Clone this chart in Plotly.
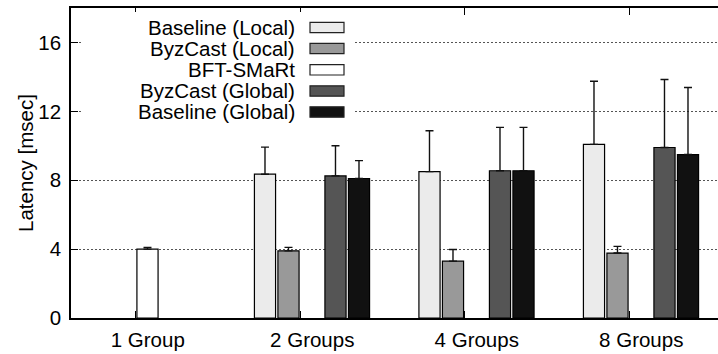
import plotly.graph_objects as go

# ---- data -------------------------------------------------------------
groups = ["1 Group", "2 Groups", "4 Groups", "8 Groups"]
series = ["Baseline (Local)", "ByzCast (Local)", "BFT-SMaRt",
          "ByzCast (Global)", "Baseline (Global)"]

baseline_local = [None, 8.35, 8.50, 10.08]
byzcast_local = [None, 3.90, 3.30, 3.77]
bft_smart = [4.00, None, None, None]
byzcast_global = [None, 8.25, 8.55, 9.90]
baseline_global = [None, 8.10, 8.55, 9.49]

# upper error (standard deviation) above each mean
baseline_local_err = [0, 1.57, 2.37, 3.67]
byzcast_local_err = [0, 0.20, 0.68, 0.39]
bft_smart_err = [0.10, 0, 0, 0]
byzcast_global_err = [0, 1.75, 2.52, 3.95]
baseline_global_err = [0, 1.04, 2.52, 3.89]

y_ticks = [0, 4, 8, 12, 16]

# ---- styling ----------------------------------------------------------
W, H = 718, 354
ML, MR, MT, MB = 71, 0, 8, 36
PW, PH = W - ML - MR, H - MT - MB
FONT = "Liberation Sans, Arial, Helvetica, sans-serif"
FS = 20.5
fills = ["#ebebeb", "#999999", "#ffffff", "#555555", "#111111"]
values = [baseline_local, byzcast_local, bft_smart, byzcast_global, baseline_global]
errors = [baseline_local_err, byzcast_local_err, bft_smart_err,
          byzcast_global_err, baseline_global_err]


def px_x(x):
    return (x - ML) / PW


def px_y(y):
    return (H - MB - y) / PH


x = list(range(len(groups)))

fig = go.Figure()
for name, vals, errs, col in zip(series, values, errors, fills):
    fig.add_trace(go.Bar(
        x=x, y=vals, name=name,
        marker=dict(color=col, line=dict(color="#000000", width=1.2)),
        error_y=dict(type="data", symmetric=False, array=errs,
                     arrayminus=[0] * len(errs),
                     color="#111111", thickness=1.4, width=4),
        showlegend=False,
    ))

# ---- key: text right-aligned, swatch to the right ---------------------
shapes = [dict(type="rect", xref="paper", yref="paper",
               x0=px_x(82), x1=px_x(354), y0=px_y(122), y1=px_y(12),
               fillcolor="white", line=dict(width=0), layer="above")]
annotations = []
key_y = [27.5, 48.5, 69.8, 91, 112]
for name, col, ky in zip(series, fills, key_y):
    annotations.append(dict(
        text=name, xref="paper", yref="paper", x=px_x(297), y=px_y(ky),
        xanchor="right", yanchor="middle", showarrow=False,
        font=dict(family=FONT, size=FS, color="black")))
    shapes.append(dict(
        type="rect", xref="paper", yref="paper",
        x0=px_x(310), x1=px_x(344), y0=px_y(ky + 5.2), y1=px_y(ky - 5.2),
        fillcolor=col, line=dict(color="#222222", width=1.2), layer="above"))

annotations.append(dict(
    text="Latency [msec]", xref="paper", yref="paper",
    x=px_x(25), y=0.5, xanchor="center", yanchor="middle",
    textangle=-90, showarrow=False,
    font=dict(family=FONT, size=FS, color="black")))

slot = 1 / 7
x_lo = -0.465
x_hi = x_lo + PW / 164.5

fig.update_layout(
    width=W, height=H,
    margin=dict(l=ML, r=MR, t=MT, b=MB, pad=0),
    paper_bgcolor="white", plot_bgcolor="white",
    barmode="group", bargap=2 * slot, bargroupgap=0.1,
    font=dict(family=FONT, size=FS, color="black"),
    shapes=shapes, annotations=annotations,
    xaxis=dict(
        range=[x_lo, x_hi], tickvals=[i - slot / 2 for i in x],
        ticktext=groups, ticklabelshift=12, ticklabelstandoff=3,
        ticks="inside", ticklen=7, tickwidth=1.2, tickcolor="black",
        showline=True, linewidth=1.5, linecolor="black", mirror="ticks",
        showgrid=False, zeroline=False,
        tickfont=dict(family=FONT, size=FS, color="black"),
    ),
    yaxis=dict(
        range=[0, 18], tickvals=y_ticks,
        ticks="inside", ticklen=7, tickwidth=1.2, tickcolor="black",
        showline=True, linewidth=1.5, linecolor="black", mirror=False,
        showgrid=True, gridcolor="#555555", gridwidth=1, griddash="2px,2px",
        zeroline=False, ticklabelstandoff=4,
        tickfont=dict(family=FONT, size=FS, color="black"),
    ),
)

fig.write_html("out.html")
